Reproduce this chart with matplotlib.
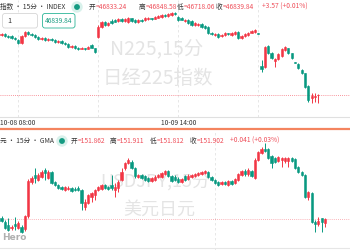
import matplotlib
matplotlib.use('Agg')
import matplotlib.pyplot as plt
from matplotlib.patches import FancyBboxPatch, Circle

plt.rcParams['font.family'] = ['Noto Sans CJK SC', 'DejaVu Sans']

# N225 15-minute candles
top_open = [47800, 47816, 47784, 47784, 47752, 47720, 47672, 47784, 47848, 47816,
            47800, 47768, 47736, 47752, 47720, 47736, 47720, 47688, 47704, 47672,
            47656, 47608, 47624, 47592, 47576, 47592, 47576, 47640, 47592, 47768,
            47928, 48008, 47960, 48024, 48040, 48024, 48056, 48024, 48008, 48072,
            48040, 48008, 48040, 48040, 48056, 48072, 48056, 48072, 48088, 48120,
            48104, 48120, 48152, 48088, 48072, 48024, 48040, 48024, 47960, 47960,
            47976, 47944, 47928, 47832, 47800, 47816, 47784, 47800, 47832, 47800,
            47816, 47848, 47752, 47784, 47800, 47832, 47848, 47832, 47304, 47288,
            47624, 47512, 47384, 47416, 47464, 47560, 47592, 47512, 47368, 47336,
            47240, 47192, 46984, 46792, 46808, 46833.24]
top_close = [47816, 47784, 47776, 47752, 47736, 47672, 47784, 47848, 47816, 47800,
             47768, 47736, 47752, 47720, 47736, 47720, 47688, 47704, 47672, 47656,
             47608, 47624, 47592, 47576, 47592, 47576, 47608, 47592, 47528, 47928,
             48008, 47960, 47992, 47992, 48016, 48056, 48024, 48056, 48072, 48024,
             48008, 48040, 48024, 48072, 48072, 48056, 48088, 48104, 48120, 48104,
             48136, 48152, 48136, 48040, 48048, 48040, 47992, 47960, 47992, 47976,
             47928, 47912, 47832, 47816, 47816, 47768, 47800, 47832, 47816, 47832,
             47848, 47752, 47784, 47816, 47832, 47864, 47880, 47824, 47256, 47608,
             47512, 47432, 47416, 47496, 47576, 47608, 47512, 47432, 47360, 47272,
             47192, 46968, 46760, 46824, 46824, 46839.84]
top_high = [47840, 47830, 47800, 47795, 47768, 47730, 47800, 47870, 47860, 47830,
            47812, 47780, 47770, 47765, 47750, 47750, 47730, 47720, 47715, 47685,
            47665, 47640, 47635, 47605, 47605, 47600, 47625, 47650, 47600, 47960,
            48030, 48020, 48005, 48050, 48055, 48070, 48065, 48070, 48090, 48080,
            48050, 48055, 48050, 48085, 48085, 48080, 48100, 48115, 48135, 48130,
            48150, 48168, 48165, 48100, 48085, 48055, 48050, 48035, 48005, 47990,
            47985, 47955, 47940, 47845, 47830, 47825, 47815, 47845, 47840, 47845,
            47860, 47860, 47795, 47830, 47845, 47880, 47895, 47838, 47400, 47620,
            47640, 47525, 47425, 47510, 47590, 47625, 47600, 47520, 47372, 47345,
            47250, 47200, 46995, 46872, 46872, 46848.58]
top_low = [47790, 47770, 47760, 47740, 47720, 47650, 47660, 47770, 47800, 47785,
           47755, 47720, 47725, 47705, 47710, 47700, 47675, 47680, 47660, 47640,
           47595, 47600, 47580, 47565, 47570, 47560, 47570, 47585, 47515, 47750,
           47915, 47945, 47950, 47980, 48005, 48015, 48010, 48010, 47995, 48010,
           47995, 48000, 48015, 48030, 48045, 48045, 48050, 48065, 48080, 48095,
           48095, 48110, 48125, 48030, 48040, 48015, 47980, 47945, 47950, 47950,
           47915, 47900, 47820, 47805, 47790, 47750, 47775, 47790, 47805, 47790,
           47805, 47740, 47740, 47775, 47790, 47825, 47840, 47818, 47208, 47280,
           47500, 47420, 47288, 47400, 47455, 47550, 47500, 47420, 47355, 47260,
           47180, 46955, 46728, 46712, 46728, 46718.06]

# USDJPY 15-minute candles
bot_open = [151.913, 151.869, 151.836, 151.803, 151.847, 151.803, 151.814, 151.792, 151.935, 152.309,
            152.386, 152.331, 152.364, 152.441, 152.353, 152.419, 152.309, 152.276, 152.254, 152.221,
            152.232, 152.243, 152.232, 152.243, 152.221, 152.034, 152.078, 152.144, 152.166, 152.221,
            152.232, 152.276, 152.254, 152.276, 152.221, 152.243, 152.331, 152.463, 152.518, 152.529,
            152.463, 152.364, 152.386, 152.375, 152.353, 152.320, 152.331, 152.364, 152.364, 152.397,
            152.430, 152.375, 152.364, 152.342, 152.309, 152.375, 152.342, 152.364, 152.375, 152.386,
            152.397, 152.408, 152.419, 152.364, 152.331, 152.309, 152.287, 152.309, 152.276, 152.320,
            152.298, 152.331, 152.386, 152.430, 152.397, 152.430, 152.353, 152.551, 152.628, 152.672,
            152.672, 152.595, 152.573, 152.540, 152.551, 152.540, 152.540, 152.573, 152.562, 152.474,
            152.419, 152.386, 152.144, 152.188, 151.869, 151.847, 151.913, 151.862]
bot_close = [151.880, 151.803, 151.781, 151.814, 151.825, 151.858, 151.759, 151.935, 152.320, 152.353,
             152.353, 152.386, 152.419, 152.408, 152.419, 152.298, 152.276, 152.243, 152.232, 152.254,
             152.243, 152.210, 152.221, 152.221, 152.078, 152.089, 152.166, 152.188, 152.221, 152.254,
             152.276, 152.243, 152.232, 152.243, 152.254, 152.309, 152.419, 152.518, 152.551, 152.463,
             152.375, 152.386, 152.353, 152.331, 152.320, 152.353, 152.364, 152.386, 152.408, 152.430,
             152.375, 152.320, 152.331, 152.309, 152.342, 152.331, 152.375, 152.386, 152.397, 152.408,
             152.419, 152.430, 152.364, 152.331, 152.298, 152.276, 152.309, 152.287, 152.320, 152.287,
             152.342, 152.397, 152.430, 152.397, 152.441, 152.375, 152.551, 152.639, 152.672, 152.650,
             152.573, 152.518, 152.529, 152.584, 152.573, 152.573, 152.573, 152.540, 152.463, 152.419,
             152.386, 152.144, 152.199, 151.869, 151.847, 151.880, 151.869, 151.902]
bot_high = [151.935, 151.891, 151.913, 151.836, 151.924, 151.880, 151.836, 151.946, 152.342, 152.375,
            152.463, 152.408, 152.441, 152.463, 152.441, 152.430, 152.320, 152.287, 152.265, 152.265,
            152.265, 152.254, 152.254, 152.265, 152.232, 152.122, 152.177, 152.199, 152.232, 152.265,
            152.287, 152.287, 152.265, 152.386, 152.298, 152.331, 152.463, 152.529, 152.573, 152.551,
            152.474, 152.397, 152.397, 152.386, 152.364, 152.364, 152.386, 152.397, 152.419, 152.441,
            152.441, 152.386, 152.386, 152.364, 152.353, 152.386, 152.397, 152.397, 152.408, 152.419,
            152.430, 152.441, 152.430, 152.375, 152.342, 152.320, 152.320, 152.320, 152.331, 152.331,
            152.353, 152.408, 152.441, 152.452, 152.463, 152.441, 152.573, 152.650, 152.694, 152.738,
            152.683, 152.606, 152.584, 152.595, 152.584, 152.584, 152.584, 152.584, 152.573, 152.485,
            152.430, 152.397, 152.210, 152.199, 151.891, 151.924, 151.913, 151.911]
bot_low = [151.869, 151.792, 151.770, 151.781, 151.781, 151.792, 151.748, 151.770, 151.913, 152.287,
           152.298, 152.320, 152.353, 152.331, 152.342, 152.287, 152.265, 152.232, 152.221, 152.210,
           152.221, 152.199, 152.210, 152.210, 152.001, 152.001, 152.067, 152.089, 152.111, 152.210,
           152.221, 152.232, 152.221, 152.221, 152.144, 152.199, 152.320, 152.441, 152.507, 152.452,
           152.353, 152.353, 152.342, 152.320, 152.309, 152.309, 152.320, 152.353, 152.353, 152.386,
           152.364, 152.309, 152.320, 152.298, 152.298, 152.320, 152.331, 152.353, 152.364, 152.375,
           152.386, 152.397, 152.353, 152.320, 152.287, 152.265, 152.276, 152.276, 152.265, 152.276,
           152.287, 152.320, 152.375, 152.375, 152.375, 152.364, 152.342, 152.540, 152.617, 152.639,
           152.562, 152.463, 152.518, 152.529, 152.474, 152.518, 152.474, 152.529, 152.452, 152.408,
           152.375, 152.133, 152.111, 151.858, 151.759, 151.825, 151.759, 151.812]

top_ticks = [5, 29, 53, 77]
top_tick_labels = ['10-08 08:00', '', '10-09 14:00', '']
bot_grid = [64]

RED = '#f23645'
GREEN = '#089981'
VAL = '#ef4f5a'
GRID = '#e3e3e3'
WM = '#e4e4e4'


def draw_candles(ax, o, h, l, c):
    idx = range(len(o))
    cols = [RED if c[i] >= o[i] else GREEN for i in idx]
    ax.vlines(list(idx), l, h, colors=cols, lw=0.7, zorder=3)
    ax.bar(list(idx), [c[i] - o[i] for i in idx], bottom=o, width=0.68,
           color=cols, edgecolor=cols, lw=0.4, zorder=4)


fig = plt.figure(figsize=(3.5, 2.5), dpi=100)

ax1 = fig.add_axes([0, 133 / 250, 1, 117 / 250])
ax2 = fig.add_axes([0, 0, 1, 120 / 250])

for ax in (ax1, ax2):
    for s in ax.spines.values():
        s.set_visible(False)
    ax.set_xlim(-0.45, 104.5)
    ax.set_yticks([])

draw_candles(ax1, top_open, top_high, top_low, top_close)
draw_candles(ax2, bot_open, bot_high, bot_low, bot_close)
ax1.set_ylim(46488, 48360)
ax2.set_ylim(151.561, 152.881)

ax1.set_xticks(top_ticks, top_tick_labels)
ax1.tick_params(axis='x', length=0, pad=1.5, labelsize=4.8, labelcolor='#333333')
ax1.grid(axis='x', color=GRID, ls=(0, (3, 3)), lw=0.6)
ax2.set_xticks([])
for g in bot_grid:
    ax2.axvline(g, color=GRID, ls=(0, (3, 3)), lw=0.6, zorder=1)

ax1.axhline(top_close[-1], color=RED, ls=(0, (1, 1.5)), lw=0.6, alpha=0.7, zorder=2)
ax2.axhline(bot_close[-1], color=RED, ls=(0, (1, 1.5)), lw=0.6, alpha=0.5, zorder=2)

# watermarks
ax1.text(157 / 350, 1 - 49 / 117, 'N225,15分', transform=ax1.transAxes, ha='center',
         va='center', fontsize=14, color=WM, zorder=0)
ax1.text(158 / 350, 1 - 78 / 117, '日经225指数', transform=ax1.transAxes, ha='center',
         va='center', fontsize=14, color=WM, zorder=0)
ax2.text(155 / 350, 1 - 53 / 120, 'USDJPY,15分', transform=ax2.transAxes, ha='center',
         va='center', fontsize=13, color=WM, zorder=0)
ax2.text(159 / 350, 1 - 80 / 120, '美元日元', transform=ax2.transAxes, ha='center',
         va='center', fontsize=13, color=WM, zorder=0)

# overlay in pixel coordinates
ov = fig.add_axes([0, 0, 1, 1], zorder=10)
ov.set_xlim(0, 350)
ov.set_ylim(250, 0)
ov.axis('off')
ov.patch.set_alpha(0)

ov.axhline(117, color='#e0e0e0', lw=0.8)
ov.axhline(129, color='#f4845f', lw=1.6)
ov.axhline(248, color='#e6e6e6', lw=0.8)

fs = 4.8
off = 6.8
ov.text(0, 7, '指数 • 15分 • INDEX', fontsize=fs, color='#333333', va='center')
ov.add_patch(Circle((77, 7), 5, color='#d8f1eb'))
ov.add_patch(Circle((77, 7), 2.2, color='#159b82'))
top_fields = [('开', 89, top_open[-1]), ('高', 138.5, top_high[-1]),
              ('低', 176.5, top_low[-1]), ('收', 216, top_close[-1])]
for name, x, v in top_fields:
    ov.text(x, 7, name, fontsize=fs, color='#333333', va='center')
    ov.text(x + off, 7, f'={v:.2f}', fontsize=fs, color=VAL, va='center')
ov.text(262, 7, '+3.57 (+0.01%)', fontsize=fs, color=VAL, va='center')

ov.text(0, 141, '元 • 15分 • GMA', fontsize=fs, color='#333333', va='center')
ov.add_patch(Circle((62, 141), 5, color='#d8f1eb'))
ov.add_patch(Circle((62, 141), 2.2, color='#159b82'))
bot_fields = [('开', 71, bot_open[-1]), ('高', 110, bot_high[-1]),
              ('低', 150, bot_low[-1]), ('收', 190, bot_close[-1])]
for name, x, v in bot_fields:
    ov.text(x, 141, name, fontsize=fs, color='#333333', va='center')
    ov.text(x + off, 141, f'={v:.3f}', fontsize=fs, color=VAL, va='center')
ov.text(230, 141, '+0.041 (+0.03%)', fontsize=fs, color=VAL, va='center')

ov.add_patch(FancyBboxPatch((2.5, 13.5), 35, 14.5, boxstyle='round,pad=0,rounding_size=2.5',
                            fc='white', ec='#d6d6d6', lw=0.6))
ov.text(7, 21, '1', fontsize=5.2, color='#333333', va='center')
ov.add_patch(FancyBboxPatch((42.5, 13.5), 32.5, 14.5, boxstyle='round,pad=0,rounding_size=2.5',
                            fc='white', ec='#2bb597', lw=0.6))
ov.text(58.7, 21, f'{top_close[-1]:.2f}', fontsize=fs, color='#1a9c82', va='center', ha='center')

ov.text(2, 237, 'Hero', fontsize=6.5, fontweight='bold', color='#b0b0b0', va='center',
        family='DejaVu Sans')

fig.savefig('out.png', dpi=100)
